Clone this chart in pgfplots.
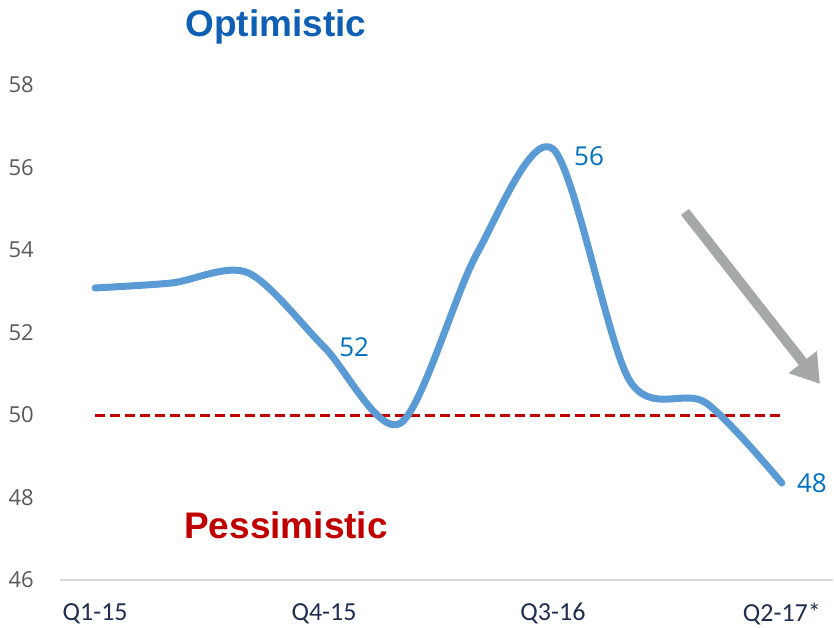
\documentclass[border=0pt]{standalone}
\usepackage{pgfplots}
\pgfplotsset{compat=1.18}
\usepackage{fontspec}
\setmainfont{Open Sans}
\newfontfamily\carlito{Carlito}
\newfontfamily\arial{Liberation Sans}
\usetikzlibrary{arrows.meta}
\definecolor{linecol}{HTML}{5B9BD5}
\definecolor{lblblue}{HTML}{0070C0}
\definecolor{optblue}{HTML}{0F5FB4}
\definecolor{pesred}{HTML}{C00000}
\definecolor{arrgray}{HTML}{A5A8A6}
\definecolor{tickgray}{HTML}{595959}
\definecolor{navy}{HTML}{1F2D4F}
\definecolor{axgray}{HTML}{D9D9D9}
\begin{document}
\begin{tikzpicture}[x=1pt,y=1pt]
\useasboundingbox (0,0) rectangle (834,627);
\begin{axis}[
  at={(57pt,47pt)}, anchor=south west,
  scale only axis, width=763pt, height=495pt,
  xmin=-0.5, xmax=9.5, ymin=46, ymax=58,
  axis x line=bottom, axis y line=left,
  axis line style={draw=none},
  tick style={draw=none},
  xtick={0,3,6,9},
  xticklabels={Q1-15,Q4-15,Q3-16,Q2-17*},
  ytick={46,48,50,52,54,56,58},
  /pgf/number format/assume math mode=true,
  major tick length=0pt,
  yticklabel style={anchor=east, inner sep=0pt, xshift=-23pt, font=\fontsize{22}{26}\selectfont, text=tickgray},
  xticklabel style={anchor=north, inner sep=0pt, yshift=-23pt, font=\carlito\fontsize{26}{30}\selectfont, text=navy},
  clip=false,
]
\draw[axgray, line width=1.5pt] (rel axis cs:0.004,0) -- (rel axis cs:1.017,0);
\addplot[pesred, line width=3pt, dash pattern=on 10pt off 5pt] coordinates {(0,50) (9,50)};
\addplot[linecol, line width=7pt, smooth, tension=0.5, line cap=round, line join=round] coordinates {
 (0,53.08) (1,53.2) (2,53.45) (3,51.65) (4,49.8) (5,53.9) (6,56.45) (7,50.85) (8,50.3) (9,48.35)};
\addplot[draw=none, nodes near coords, point meta=explicit symbolic,
  every node near coord/.style={anchor=west, xshift=15pt, inner sep=0pt, font=\fontsize{26}{30}\selectfont, text=lblblue}]
  coordinates {(3,51.65) [52] (9,48.35) [48]};
\addplot[draw=none, nodes near coords, point meta=explicit symbolic,
  every node near coord/.style={anchor=west, xshift=21pt, yshift=-7pt, inner sep=0pt, font=\fontsize{26}{30}\selectfont, text=lblblue}]
  coordinates {(6,56.45) [56]};
\end{axis}
\draw[arrgray, line width=10pt, -{Triangle[length=28pt,width=34pt]}] (685,415) -- (820,243);
\node[anchor=base, inner sep=0pt, text=optblue, font=\arial\bfseries\fontsize{37}{40}\selectfont] at (276,590) {Optimistic};
\node[anchor=base, inner sep=0pt, text=pesred, font=\arial\bfseries\fontsize{37}{40}\selectfont] at (286,89) {Pessimistic};
\end{tikzpicture}
\end{document}
